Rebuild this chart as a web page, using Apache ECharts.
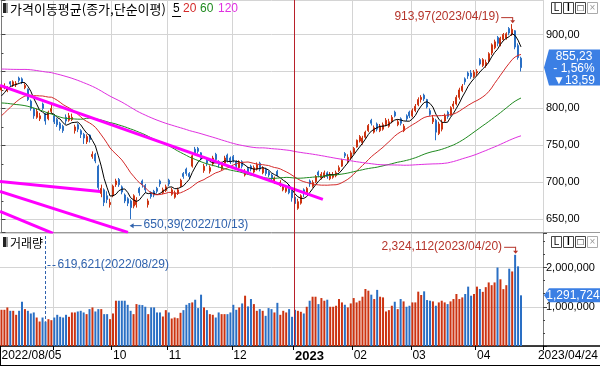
<!DOCTYPE html>
<html><head><meta charset="utf-8">
<script src="https://cdn.jsdelivr.net/npm/echarts@6/dist/echarts.min.js"></script>
<style>html,body{margin:0;padding:0;background:#fff}#c{width:600px;height:366px}</style>
</head><body><div id="c"></div>
<script>
// ---- trading days shown (category axis) ----
const tradingDays = {
 '2022/08':[5,8,9,10,11,12,16,17,18,19,22,23,24,25,26,29,30,31],
 '2022/09':[1,2,5,6,7,8,13,14,15,16,19,20,21,22,23,26,27,28,29,30],
 '2022/10':[4,5,6,7,11,12,13,14,17,18,19,20,21,24,25,26,27,28,31],
 '2022/11':[1,2,3,4,7,8,9,10,11,14,15,16,17,18,21,22,23,24,25,28,29,30],
 '2022/12':[1,2,5,6,7,8,9,12,13,14,15,16,19,20,21,22,23,26,27,28,29],
 '2023/01':[2,3,4,5,6,9,10,11,12,13,16,17,18,19,20,25,26,27,30,31],
 '2023/02':[1,2,3,6,7,8,9,10,13,14,15,16,17,20,21,22,23,24,27,28],
 '2023/03':[2,3,6,7,8,9,10,13,14,15,16,17,20,21,22,23,24,27,28,29,30,31],
 '2023/04':[3,4,5,6,7,10,11,12,13,14,17,18,19,20,21,24]
};
// closes before the visible window (only feed the moving averages)
const leadCloses = [
 835,845,850,848,840,845,835,825,830,838,850,
 862,870,866,862,850,858,909,892,889,904,919,929,939,944,939,949,954,949,959,954,949,
 953,960,963,950,947,940,935,930,933,950,955,960,957,955,945,925,910,895,885,883,881,
 870,868,860,850,830,835,830,845,850,862,868,865,860,866,870,865,868,862,870,875,872,
 880,878,875,872,862,850,835,815,805,808,795,785,770,740,712,740,755,760,748,742,
 745,745,748,740,765,775,758,750,762,755,763,775,782,790,795,798,800,795,796,802,798,
 810,802,818,826
];
const open = [
 825,828,824,836,831,832,841,840,828,826,810,799,788,786,806,792,786,796,
 790,785,780,776,788,784,785,770,778,770,765,755,764,735,738,722,685,690,682,670,
 682,697,704,694,683,678,675,668,670,692,702,696,670,686,688,692,702,686,689,
 703,684,680,685,695,712,718,712,722,745,746,740,716,730,715,725,738,728,718,726,737,733,
 735,728,720,728,710,719,722,714,718,726,713,718,714,710,700,715,696,690,688,695,688,
 680,665,672,690,686,702,695,701,714,706,708,713,705,707,709,716,722,739,728,733,
 740,748,756,754,761,770,784,768,779,770,772,778,776,782,795,778,786,770,790,795,
 790,797,805,812,818,812,797,782,784,766,772,783,795,792,803,806,815,824,840,848,848,843,
 848,866,858,858,864,875,882,896,886,893,895,908,900,905,885,868
];
const high = [
 832,834,830,837,838,837,843,842,834,827,812,801,800,794,808,794,797,806,
 792,787,782,778,792,794,793,778,780,772,767,765,765,742,740,724,697,692,688,678,
 697,705,706,696,685,680,677,684,680,694,704,698,678,688,690,694,704,693,697,
 705,693,689,693,705,714,720,714,738,748,748,741,725,732,723,736,740,730,728,736,739,735,
 737,730,730,730,718,721,724,723,727,728,722,720,716,712,708,717,703,697,695,697,690,
 682,678,684,692,694,704,703,710,716,714,716,715,714,714,716,723,732,741,738,743,
 748,758,764,763,770,779,786,777,781,779,781,787,786,791,797,785,788,779,792,797,
 800,806,815,818,820,813,800,791,786,782,785,793,797,803,810,818,828,833,842,850,852,852,
 853,868,868,866,876,888,893,898,897,902,903,910,913.97,906,888,870
];
const low = [
 823,826,822,830,829,829,835,833,826,810,797,786,786,783,798,778,784,793,
 779,775,770,767,779,782,783,766,768,760,752,752,754,732,726,690,680,668,672,666,
 680,694,694,684,672,668,650.39,665,666,682,693,686,666,678,680,685,694,684,687,
 695,682,678,683,693,705,709,705,720,737,739,730,713,722,712,722,728,720,716,724,727,725,
 727,719,718,719,708,711,715,712,716,715,711,709,707,702,698,708,694,688,686,684,674,
 660,663,670,680,684,694,693,699,707,704,706,705,703,705,707,714,721,733,726,731,
 738,747,754,751,759,768,777,766,769,768,770,776,774,780,788,776,777,768,783,787,
 788,795,803,808,810,800,790,779,757,764,769,781,786,790,799,804,812,822,832,840,840,841,
 844,858,856,855,861,872,880,884,884,891,893,899,898,880,866,850
];
const close = [
 829,831,828,833,836,834,838,835,831,812,800,790,796,790,800,783,795,800,
 782,778,773,770,783,790,788,775,772,765,760,762,758,738,729,693,692,673,677,673,
 695,702,697,687,675,672,666,682,676,686,697,690,675,681,683,688,698,690,694,
 698,690,686,690,703,708,712,708,736,740,742,732,722,726,720,733,731,724,725,733,730,728,
 730,722,728,722,715,714,718,720,724,718,720,712,710,705,706,710,700,694,692,686,679.29,
 671.51,674,682,685,692,698,700,708,710,711,713,708,711,710,713,720,730,736,734,740,
 746,757,762,760,768,777,780,774,772,776,778,784,782,788,790,782,780,776,786,790,
 797,803,812,815,813,802,792,787,768,779,781,790,789,801,806,815,825,830,836,844,843,849,
 850,860,866,862,874,886,890,888,895,900,901,902,907,883,868.82,855.23
];
const volume = [
 923000,923000,983000,897000,897000,795000,897000,1128000,940000,897000,829000,855000,726000,624000,726000,619621,684000,658000,
 726000,795000,744000,726000,795000,744000,855000,855000,880000,897000,855000,812000,940000,983000,880000,940000,940000,812000,812000,684000,
 829000,1154000,1154000,1154000,1154000,1050000,897000,812000,1068000,1050000,1043000,1000000,812000,983000,983000,855000,855000,752000,914000,
 855000,701000,726000,709000,846000,914000,1050000,1094000,1111000,1179000,966000,1308000,983000,914000,812000,795000,726000,855000,812000,812000,812000,855000,
 1050000,923000,983000,1085000,1282000,1009000,1197000,1068000,897000,940000,897000,769000,966000,940000,855000,1100000,795000,897000,855000,940000,744000,
 923000,897000,872000,829000,1000000,1154000,1256000,1256000,1068000,1222000,1154000,1180000,1000000,1000000,1026000,1197000,1111000,1051000,983000,1085000,
 1222000,1111000,1154000,1256000,1453000,1410000,1308000,1197000,1430000,1256000,1239000,880000,914000,1026000,1128000,940000,1197000,1137000,1000000,1026000,
 1111000,1111000,1385000,1300000,1393000,1171000,1154000,1137000,1026000,1111000,1154000,1111000,1068000,1137000,1197000,1325000,1197000,1239000,1325000,1513000,1282000,1325000,
 1513000,1453000,1380000,1500000,1620000,1550000,1620000,2000000,1700000,1450000,1550000,1970000,1900000,2324112,2030000,1291724
];
// user-drawn trend lines: [index, price] end points
const trendLines = [
 [[-0.5, 831.1], [109.5, 677.0]],
 [[-0.5, 701.4], [33.6, 687.8]],
 [[-0.5, 687.8], [43.1, 632.4]],
 [[-0.5, 660.8], [17.6, 631.1]]
];
const maPeriods = [5, 20, 60, 120];
const maColors = ['#000000', '#d42a2a', '#1f8a1f', '#e030e0'];
const padSlots = 7;

// ---- build ----
const dates = [];
for (const m in tradingDays) for (const d of tradingDays[m]) dates.push(m + '/' + String(d).padStart(2, '0'));
const N = dates.length;
const cats = dates.concat(Array.from({length: padSlots}, (_, k) => 'pad' + k));
const monthStart = new Set();
for (let i = 1; i < N; i++) if (dates[i].slice(0, 7) !== dates[i - 1].slice(0, 7)) monthStart.add(i);
const yearStart = [...monthStart].find(i => dates[i].slice(5, 7) === '01');
const allC = leadCloses.concat(close);
function ma(n) {
  const out = [];
  for (let i = 0; i < N; i++) {
    const j = i + leadCloses.length; let s = 0;
    for (let k = j - n + 1; k <= j; k++) s += allC[k];
    out.push(+(s / n).toFixed(2));
  }
  return out;
}
const UP = '#cc3311', DN = '#2a6fc4';
const kData = dates.map((_, i) => [open[i], close[i], low[i], high[i]]);
const volData = volume.map((v, i) => ({value: v, itemStyle: {color: close[i] >= open[i] ? UP : DN}}));
const fmtPrice = v => v.toFixed(2).replace('.', ',');
const fmtVol = v => Math.round(v).toString().replace(/\B(?=(\d{3})+(?!\d))/g, ',');
const NUMF = '"Liberation Sans", Arial, sans-serif';
const KRF = '"Noto Sans CJK KR", sans-serif';

const series = [{
  type: 'candlestick', xAxisIndex: 0, yAxisIndex: 0, data: kData, barWidth: 1.5, silent: true,
  itemStyle: {color: UP, color0: DN, borderColor: UP, borderColor0: DN, borderWidth: 1}
}];
maPeriods.forEach((p, k) => series.push({
  type: 'line', xAxisIndex: 0, yAxisIndex: 0, data: ma(p), symbol: 'none', showSymbol: false, silent: true,
  lineStyle: {color: maColors[k], width: 1}, z: 3
}));
trendLines.forEach(t => series.push({
  type: 'line', xAxisIndex: 2, yAxisIndex: 0, data: t, symbol: 'none', showSymbol: false, silent: true, clip: true,
  lineStyle: {color: '#ff00ff', width: 3}, z: 4
}));
series.push({type: 'bar', xAxisIndex: 1, yAxisIndex: 1, data: volData, barWidth: 2, silent: true});

const splitX = {show: true, interval: (i) => monthStart.has(i) && i !== yearStart, lineStyle: {color: '#d4d4d4', width: 1}};
const option = {
  animation: false, backgroundColor: '#fff',
  grid: [
    {left: 0, right: 57, top: 0, height: 232, containLabel: false, outerBoundsMode: 'none'},
    {left: 0, right: 57, top: 233, height: 113, containLabel: false, outerBoundsMode: 'none'}
  ],
  xAxis: [
    {type: 'category', gridIndex: 0, data: cats, boundaryGap: true,
     axisLine: {show: true, lineStyle: {color: '#9a9a9a'}}, axisTick: {show: false}, axisLabel: {show: false}, splitLine: splitX},
    {type: 'category', gridIndex: 1, data: cats, boundaryGap: true,
     axisLine: {show: true, lineStyle: {color: '#000', width: 1.5}},
     axisTick: {show: true, interval: (i) => i === 0 || monthStart.has(i), length: 4, lineStyle: {color: '#000'}},
     axisLabel: {show: true, interval: (i) => i === 0 || (monthStart.has(i) && i > 20), align: 'left', margin: 4,
       fontSize: 12, color: '#000', fontFamily: NUMF,
       formatter: (v, i) => i === 0 ? v : (v.slice(5, 7) === '01' ? '{b|' + v.slice(0, 4) + '}' : v.slice(5, 7)),
       rich: {b: {fontWeight: 'bold', fontSize: 13, fontFamily: NUMF, color: '#000'}}},
     splitLine: splitX},
    {type: 'value', gridIndex: 0, min: -0.5, max: cats.length - 0.5, show: false}
  ],
  yAxis: [
    {type: 'value', gridIndex: 0, position: 'right', min: 633, max: 946.6, splitNumber: 5,
     axisLine: {show: true, lineStyle: {color: '#7a7a7a'}},
     axisTick: {show: true, length: 4, lineStyle: {color: '#444'}},
     minorTick: {show: true, splitNumber: 2, length: 2, lineStyle: {color: '#444'}},
     axisLabel: {formatter: fmtPrice, fontSize: 11, color: '#000', margin: 3, fontFamily: NUMF, showMinLabel: false, showMaxLabel: false},
     splitLine: {show: true, lineStyle: {color: '#d4d4d4'}}},
    {type: 'value', gridIndex: 1, position: 'right', min: 0, max: 2880000, splitNumber: 3,
     axisLine: {show: true, lineStyle: {color: '#7a7a7a'}},
     axisTick: {show: true, length: 4, lineStyle: {color: '#444'}},
     minorTick: {show: true, splitNumber: 3, length: 2, lineStyle: {color: '#444'}},
     axisLabel: {formatter: fmtVol, fontSize: 11, color: '#000', margin: 3, fontFamily: NUMF, showMinLabel: false, showMaxLabel: false},
     splitLine: {show: true, lineStyle: {color: '#d4d4d4'}}}
  ],
  series
};
const chart = echarts.init(document.getElementById('c'), null, {renderer: 'canvas'});
chart.setOption(option);

// ---- overlays positioned through the chart's own scales ----
const P = (i, v) => chart.convertToPixel({xAxisIndex: 0, yAxisIndex: 0}, [i, v]);
const V = (i, v) => chart.convertToPixel({xAxisIndex: 1, yAxisIndex: 1}, [i, v]);
const G = [];
function T(x, y, text, fill, font, align) {
  G.push({type: 'text', silent: true, z: 100, style: {x, y, text, fill: fill || '#000', font: font || ('12px ' + NUMF),
    textAlign: align || 'left', align: align || 'left', textVerticalAlign: 'middle', verticalAlign: 'middle'}});
}
function L(x1, y1, x2, y2, stroke, w, dash) {
  G.push({type: 'line', silent: true, z: 100, shape: {x1, y1, x2, y2}, style: {stroke, lineWidth: w || 1, lineDash: dash || null}});
}
function PG(points, fill, z) { G.push({type: 'polygon', silent: true, z: z || 100, shape: {points}, style: {fill}}); }
function R(x, y, w, h, fill, stroke) { G.push({type: 'rect', silent: true, z: 100, shape: {x, y, width: w, height: h}, style: {fill, stroke: stroke || null, lineWidth: 1}}); }

// year divider
const xy = (P(yearStart - 1, 700)[0] + P(yearStart, 700)[0]) / 2;
L(Math.round(xy) + 0.5, 0, Math.round(xy) + 0.5, 346, '#b8202a', 1);
// panel separators / frame
L(543, 232.5, 600, 232.5, '#9a9a9a', 1);
L(543, 346, 600, 346, '#000', 1.5);
L(0.5, 346, 0.5, 366, '#000', 1);
L(0, 365.5, 600, 365.5, '#000', 1);

// titles
R(3, 3, 5, 10, '#9a9a9a', null); R(3, 3, 3, 10, '#222', null);
T(10, 9, '가격이동평균(종가,단순이평)', '#000', '13px ' + KRF);
const legendX = [173, 183, 200, 218];
maPeriods.forEach((p, k) => T(legendX[k], 9, String(p), k === 0 ? '#000' : maColors[k], '12px ' + NUMF));
L(172, 16.5, 181, 16.5, '#000', 1);
R(3, 237, 5, 10, '#9a9a9a', null); R(3, 237, 3, 10, '#222', null);
T(10, 243, '거래량', '#000', '12px ' + KRF);

// window buttons
[[2], [236]].forEach(([by]) => {
  ['L', 'I', '□', '×'].forEach((s, k) => {
    const bx = 551 + k * 12;
    R(bx + 0.5, by + 0.5, 10, 11, '#fff', k === 3 ? '#aaa' : '#444');
    T(bx + 5.5, by + 6.5, s, k === 3 ? '#999' : '#000', (k === 1 ? 'bold ' : '') + '10px ' + NUMF, 'center');
  });
});

// highest / lowest annotations
let hi = 0, lo = 0, vhi = 0, vlo = 0;
for (let i = 1; i < N; i++) {
  if (high[i] > high[hi]) hi = i;
  if (low[i] < low[lo]) lo = i;
  if (volume[i] > volume[vhi]) vhi = i;
  if (volume[i] < volume[vlo]) vlo = i;
}
const RED = '#b5342a', BLU = '#2f62ad';
{
  const [x, y] = P(hi, high[hi]); const ty = y - 7;
  T(x - 13, ty, fmtPrice(high[hi]) + '(' + dates[hi] + ')', RED, '12px ' + NUMF, 'right');
  L(x - 11, ty + 0.5, x + 0.5, ty + 0.5, RED, 1); L(x + 0.5, ty, x + 0.5, y - 3, RED, 1);
  PG([[x - 2, y - 4], [x + 3, y - 4], [x + 0.5, y - 1]], RED);
}
{
  const [x, y] = P(lo, low[lo]); const ty = y + 6;
  T(x + 13, ty, fmtPrice(low[lo]) + '(' + dates[lo] + ')', BLU, '12px ' + NUMF, 'left');
  L(x + 2, ty + 0.5, x + 11, ty + 0.5, BLU, 1);
  PG([[x - 1, ty + 0.5], [x + 3, ty - 2], [x + 3, ty + 3]], BLU);
}
{
  const [x, y] = V(vhi, volume[vhi]); const ty = y - 8;
  T(x - 13, ty, fmtVol(volume[vhi]) + '(' + dates[vhi] + ')', RED, '12px ' + NUMF, 'right');
  L(x - 11, ty + 0.5, x + 0.5, ty + 0.5, RED, 1); L(x + 0.5, ty, x + 0.5, y - 3, RED, 1);
  PG([[x - 2, y - 4], [x + 3, y - 4], [x + 0.5, y - 1]], RED);
}
{
  const [x, y] = V(vlo, volume[vlo]);
  L(Math.round(x) + 0.5, 236, Math.round(x) + 0.5, y, BLU, 1, [3, 2]);
  L(x + 2, 265.5, x + 11, 265.5, BLU, 1, [3, 2]);
  T(x + 12, 265, fmtVol(volume[vlo]) + '(' + dates[vlo] + ')', BLU, '12px ' + NUMF, 'left');
}

// current value boxes
const BOX = '#3b7fe4';
{
  const last = close[N - 1], prev = close[N - 2], chg = last - prev, pct = chg / prev * 100;
  const y = P(N - 1, last)[1];
  const t = y - 18, b = y + 18;
  PG([[549, t], [600, t], [600, b], [549, b], [544, y]], BOX, 90);
  T(574, y - 11, fmtPrice(last), '#fff', '12px ' + NUMF, 'center');
  T(574, y + 1, (chg < 0 ? '- ' : '+ ') + Math.abs(pct).toFixed(2).replace('.', ',') + '%', '#fff', '12px ' + NUMF, 'center');
  T(574, y + 13, (chg < 0 ? '▼' : '▲') + Math.abs(chg).toFixed(2).replace('.', ','), '#fff', '12px ' + NUMF, 'center');
}
{
  const y = V(N - 1, volume[N - 1])[1];
  PG([[549, y - 7], [600, y - 7], [600, y + 7], [549, y + 7], [544, y]], BOX, 90);
  T(573, y, fmtVol(volume[N - 1]), '#fff', '12px ' + NUMF, 'center');
}
// last date at right of date strip
T(598, 356, dates[N - 1], '#000', '12px ' + NUMF, 'right');

chart.setOption({graphic: {elements: G}});
</script>
</body></html>
